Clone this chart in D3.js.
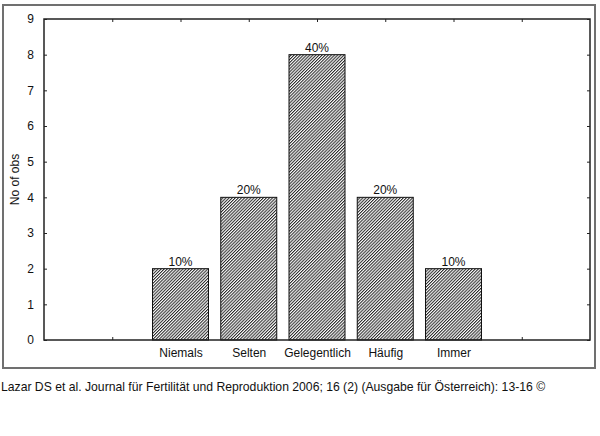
<!DOCTYPE html>
<html>
<head>
<meta charset="utf-8">
<script src="https://cdn.jsdelivr.net/npm/d3@7"></script>
<style>
  body { margin: 0; background: #fff; }
  svg { display: block; font-family: "Liberation Sans", Arial, sans-serif; }
</style>
</head>
<body>
<svg id="chart" width="600" height="436"></svg>
<script>
// data
var categories = ["Niemals", "Selten", "Gelegentlich", "Häufig", "Immer"];
var positions = [2, 3, 4, 5, 6];
var counts = [2, 4, 8, 4, 2];
var percents = ["10%", "20%", "40%", "20%", "10%"];
var yTicks = [0, 1, 2, 3, 4, 5, 6, 7, 8, 9];
var xTicks = [1, 2, 3, 4, 5, 6, 7];
var caption = "Lazar DS et al. Journal für Fertilität und Reproduktion 2006; 16 (2) (Ausgabe für Österreich): 13-16 ©";

var svg = d3.select("#chart");
var plotLeft = 44, plotRight = 590, plotTop = 19, plotBottom = 340;

var x = d3.scaleLinear().domain([0, 8]).range([plotLeft, plotRight]);
var y = d3.scaleLinear().domain([0, 9]).range([plotBottom, plotTop]);
var barW = 56;

// hatch pattern (dense diagonal lines)
var defs = svg.append("defs");
var pat = defs.append("pattern")
    .attr("id", "hatch")
    .attr("patternUnits", "userSpaceOnUse")
    .attr("width", 2.2)
    .attr("height", 2.2)
    .attr("patternTransform", "rotate(45)");
pat.append("rect").attr("width", 2.2).attr("height", 2.2).attr("fill", "#fff");
pat.append("line")
    .attr("x1", 0.5).attr("y1", 0).attr("x2", 0.5).attr("y2", 2.2)
    .attr("stroke", "#2a2a2a").attr("stroke-width", 1.1);

// outer box
svg.append("rect")
    .attr("x", 3).attr("y", 5)
    .attr("width", 592).attr("height", 363)
    .attr("fill", "none")
    .attr("stroke", "#707070")
    .attr("stroke-width", 2);

// bars
svg.selectAll(".bar").data(counts).enter().append("rect")
    .attr("class", "bar")
    .attr("x", function(d, i){ return x(positions[i]) - barW/2; })
    .attr("y", function(d){ return y(d); })
    .attr("width", barW)
    .attr("height", function(d){ return y(0) - y(d); })
    .attr("fill", "url(#hatch)")
    .attr("stroke", "#111")
    .attr("stroke-width", 1);

// percent labels
svg.selectAll(".pct").data(percents).enter().append("text")
    .attr("class", "pct")
    .attr("x", function(d, i){ return x(positions[i]); })
    .attr("y", function(d, i){ return y(counts[i]) - 3; })
    .attr("text-anchor", "middle")
    .attr("font-size", 12)
    .attr("fill", "#111")
    .text(function(d){ return d; });

// frame
svg.append("rect")
    .attr("x", plotLeft).attr("y", plotTop)
    .attr("width", plotRight - plotLeft).attr("height", plotBottom - plotTop)
    .attr("fill", "none")
    .attr("stroke", "#222")
    .attr("stroke-width", 1.5);

// axes, ticks inward
var yAxisL = svg.append("g").attr("transform", "translate(" + plotLeft + ",0)")
    .call(d3.axisLeft(y).tickValues(yTicks).tickSize(-3).tickPadding(10));
var yAxisR = svg.append("g").attr("transform", "translate(" + plotRight + ",0)")
    .call(d3.axisRight(y).tickValues(yTicks).tickSize(-3).tickFormat(""));
var xAxisT = svg.append("g").attr("transform", "translate(0," + plotTop + ")")
    .call(d3.axisTop(x).tickValues(xTicks).tickSize(-3).tickFormat(""));
var xAxisB = svg.append("g").attr("transform", "translate(0," + plotBottom + ")")
    .call(d3.axisBottom(x).tickValues(positions).tickSize(0).tickPadding(8)
        .tickFormat(function(d, i){ return categories[i]; }));
var xTicksB = svg.append("g").attr("transform", "translate(0," + plotBottom + ")")
    .call(d3.axisBottom(x).tickValues([1, 7]).tickSize(-3).tickFormat(""));

[yAxisL, yAxisR, xAxisT, xAxisB, xTicksB].forEach(function(a){
    a.select(".domain").remove();
    a.selectAll("line").attr("stroke", "#222");
    a.selectAll("text").attr("font-size", 12).attr("fill", "#111")
        .attr("font-family", "Liberation Sans, Arial, sans-serif");
});

// y label
svg.append("text")
    .attr("transform", "translate(19," + ((plotTop + plotBottom) / 2) + ") rotate(-90)")
    .attr("text-anchor", "middle")
    .attr("font-size", 12)
    .attr("fill", "#111")
    .text("No of obs");

// caption
svg.append("text")
    .attr("x", 1).attr("y", 391)
    .attr("font-size", 12.2)
    .attr("fill", "#111")
    .text(caption);
</script>
</body>
</html>
